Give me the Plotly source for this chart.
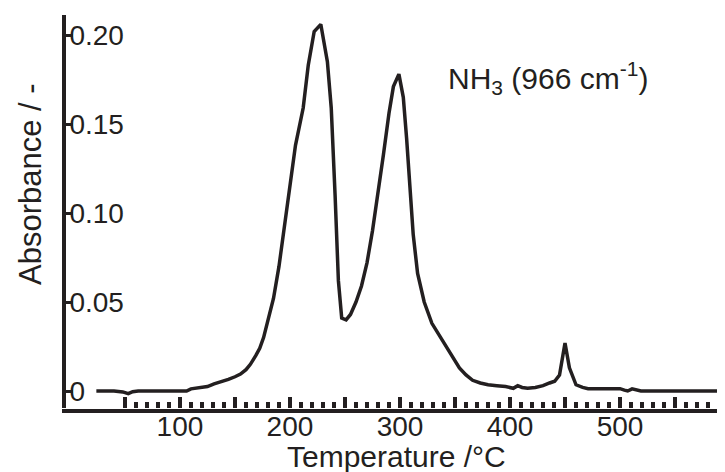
import plotly.graph_objects as go

# ---- data ----
temperature_c = [24, 40, 48, 53, 57, 62, 80, 95, 106, 110, 118, 125, 131, 137, 144, 150, 155,
                 160, 164, 169, 172.5, 176, 180, 185, 190, 195, 200, 205, 212, 216.6, 222, 228,
                 234, 237.5, 241, 244, 247, 251, 255, 260, 265, 270, 275, 280, 285, 290, 294,
                 299, 303, 306, 309, 312, 316, 322, 329, 336, 343.6, 349, 354, 360, 366, 373,
                 380, 388, 396, 403, 407, 411, 416, 423, 430, 436, 440.6, 445, 450, 454, 460,
                 466, 471, 485, 500, 504, 507, 511, 519, 560, 603]
absorbance = [0.0, 0.0, -0.0005, -0.0015, -0.0004, 0.0, 0.0, 0.0, 0.0, 0.0012, 0.002, 0.0025,
              0.004, 0.005, 0.0065, 0.008, 0.0095, 0.012, 0.015, 0.020, 0.024, 0.030, 0.039,
              0.052, 0.070, 0.092, 0.115, 0.138, 0.159, 0.183, 0.202, 0.206, 0.185, 0.159,
              0.110, 0.062, 0.041, 0.040, 0.043, 0.050, 0.059, 0.072, 0.090, 0.110, 0.133,
              0.156, 0.171, 0.178, 0.165, 0.142, 0.112, 0.088, 0.066, 0.050, 0.038, 0.031,
              0.024, 0.018, 0.013, 0.009, 0.006, 0.0045, 0.0035, 0.003, 0.0025, 0.0015, 0.003,
              0.002, 0.0015, 0.002, 0.003, 0.0045, 0.0055, 0.009, 0.027, 0.013, 0.0035,
              0.002, 0.0013, 0.0013, 0.0013, 0.0005, 0.0, 0.0012, 0.0, 0.0, 0.0]

x_label_values = [100, 200, 300, 400, 500]
x_label_texts = ["100", "200", "300", "400", "500"]
x_half_tick_values = [50, 150, 250, 350, 450, 550]
y_tick_values = [0, 0.05, 0.10, 0.15, 0.20]
y_tick_labels = ["0", "0.05", "0.10", "0.15", "0.20"]

FONT = "Liberation Sans, Arial, sans-serif"
INK = "#231f20"
W, H = 725, 472
ML, MR, MT, MB = 58, 0, 7, 72
PH = H - MT - MB
PW = W - ML - MR
X_RANGE = [-3.6, 602.7]

fig = go.Figure()
fig.add_trace(go.Scatter(x=temperature_c, y=absorbance, mode="lines",
                         line=dict(color=INK, width=3.5), showlegend=False,
                         hoverinfo="skip"))
# carrier for the second (tick-only) x axis
fig.add_trace(go.Scatter(x=[None], y=[None], xaxis="x2", mode="lines",
                         showlegend=False, hoverinfo="skip"))

fig.update_layout(
    width=W, height=H,
    margin=dict(l=ML, r=MR, t=MT, b=MB, pad=0),
    paper_bgcolor="white", plot_bgcolor="white",
    font=dict(family=FONT, size=28, color=INK),
    xaxis=dict(
        range=X_RANGE, showgrid=False, zeroline=False, showline=False,
        tickmode="array", tickvals=x_label_values, ticktext=x_label_texts,
        ticks="inside", ticklen=11, tickwidth=3.5, tickcolor=INK,
        ticklabelstandoff=-1,
        minor=dict(tickmode="linear", tick0=0, dtick=10, ticks="inside",
                   ticklen=6, tickwidth=3.5, tickcolor=INK),
        tickfont=dict(family=FONT, size=28, color=INK),
    ),
    xaxis2=dict(
        range=X_RANGE, overlaying="x", matches="x", anchor="y", side="bottom",
        showgrid=False, zeroline=False, showline=False, showticklabels=False,
        tickmode="array", tickvals=x_half_tick_values,
        ticks="inside", ticklen=11, tickwidth=3.5, tickcolor=INK,
    ),
    yaxis=dict(
        range=[-17 / 1780, 376 / 1780], showgrid=False, zeroline=False,
        showline=True, linewidth=4, linecolor=INK,
        tickmode="array", tickvals=y_tick_values, ticktext=y_tick_labels,
        ticks="inside", ticklen=7, tickwidth=2.5, tickcolor=INK,
        ticklabelposition="inside", ticklabelstandoff=-1,
        tickfont=dict(family=FONT, size=28, color=INK),
    ),
    shapes=[dict(type="line", xref="paper", yref="paper",
                 x0=-4 / PW, x1=1, y0=-3 / PH, y1=-3 / PH,
                 line=dict(color=INK, width=4))],
    annotations=[
        dict(text="Absorbance / -", textangle=-90, xref="paper", yref="paper",
             x=(22 - ML) / PW, y=(400 - 176) / PH, xanchor="center", yanchor="middle",
             showarrow=False, font=dict(family=FONT, size=31, color=INK)),
        dict(text="Temperature /°C", xref="paper", yref="paper",
             x=(388 - ML) / PW, y=(400 - 448) / PH, xanchor="center", yanchor="middle",
             showarrow=False, font=dict(family=FONT, size=30, color=INK)),
        dict(text="NH<sub>3</sub> (966 cm<sup>-1</sup>)", xref="paper", yref="paper",
             x=(438 - ML) / PW, y=(400 - 70) / PH, xanchor="left", yanchor="middle",
             showarrow=False, font=dict(family=FONT, size=30, color=INK)),
    ],
)

fig.write_html("out.html")
